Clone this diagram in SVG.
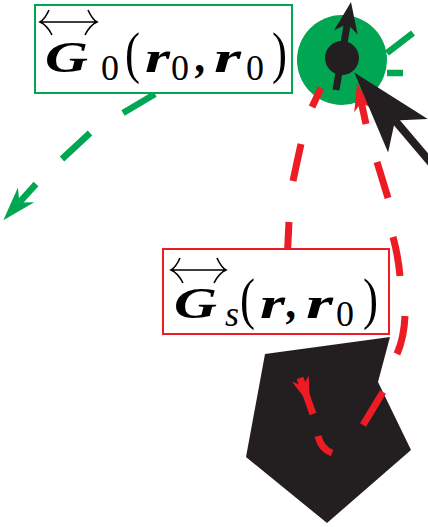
<svg xmlns="http://www.w3.org/2000/svg" width="428" height="527" viewBox="0 0 428 527">
<style>
.dash-g{fill:none;stroke:#00a651;stroke-width:6.5}
.dash-r{fill:none;stroke:#ed1c24;stroke-width:7}
.box{fill:#fff;stroke-width:2}
.m{font-family:"Liberation Serif","Times New Roman",serif;fill:#000}
.bi{font-weight:bold;font-style:italic;font-size:44px}
.sub{font-size:36px}
.it{font-style:italic}
.par{font-size:58px}
.acc{fill:none;stroke:#000;stroke-width:1.6}
</style>
<defs>
<marker id="ah-green" markerUnits="userSpaceOnUse" orient="auto" refX="0" refY="0" markerWidth="60" markerHeight="60" overflow="visible">
<path d="M24,0 L-10,-11 L0,0 L-10,11 Z" fill="#00a651"/>
</marker>
<marker id="ah-red" markerUnits="userSpaceOnUse" orient="auto" refX="0" refY="0" markerWidth="60" markerHeight="60" overflow="visible">
<path d="M20,0 L-8,-9 L0,0 L-8,9 Z" fill="#ed1c24"/>
</marker>
<marker id="ah-black" markerUnits="userSpaceOnUse" orient="auto" refX="0" refY="0" markerWidth="60" markerHeight="60" overflow="visible">
<path d="M22,0 L-9,-12 L0,0 L-9,12 Z" fill="#231f20"/>
</marker>
<marker id="ah-black-big" markerUnits="userSpaceOnUse" orient="auto" refX="0" refY="0" markerWidth="200" markerHeight="200" overflow="visible">
<path d="M63,0 L-20,-26 L0,0 L-20,26 Z" fill="#231f20"/>
</marker>
</defs>

<g id="scatterer">
<polygon points="265,354 390,337 378,382 411,450 327,523 246,457" fill="#231f20"/>
</g>

<g id="source">
<circle cx="342" cy="60" r="45" fill="#00a651"/>
<circle cx="342" cy="58" r="17" fill="#231f20"/>
<path d="M336,90 L347.3,23.7" fill="none" stroke="#231f20" stroke-width="7" marker-end="url(#ah-black)"/>
</g>

<g id="connectors">
<path class="dash-g" d="M387,53 L413,33 M387,73 L403,73"/>
<path class="dash-g" d="M155,94 L123,113 M90,133 L62,159"/>
<path class="dash-g" d="M36,184 L19.4,202.4" marker-end="url(#ah-green)"/>
<path class="dash-r" d="M321,88 L312,107 M301,144 Q297,162 293,181 M289,222 L287,262"/>
<path class="dash-r" d="M300,378 L303,386 L313,414" marker-mid="url(#ah-red)"/>
<path class="dash-r" d="M318,436 Q321,449 332,453 M363,425 L383,392 M397,354 Q404,338 405,316 M400,276 Q398,255 393,237 M388,198 L377,162"/>
<path class="dash-r" d="M366,124 L361.3,102.5" marker-end="url(#ah-red)"/>
<path d="M448,183 L395,120.5" fill="none" stroke="#231f20" stroke-width="8" marker-end="url(#ah-black-big)"/>
</g>

<g id="label-G0">
<rect class="box" x="35" y="5" width="257" height="88" stroke="#00a651"/>
<path class="acc" d="M40,22 H97 M49,10 Q45,19 40,22 Q47,25 52,35 M88,10 Q92,19 97,22 Q90,25 85,35"/>
<text class="m bi" x="45" y="72" textLength="43" lengthAdjust="spacingAndGlyphs">G</text>
<text class="m sub" x="101" y="80">0</text>
<text class="m par" x="125" y="72" textLength="15" lengthAdjust="spacingAndGlyphs">(</text>
<text class="m bi" x="145" y="72" textLength="25" lengthAdjust="spacingAndGlyphs">r</text>
<text class="m sub" x="171" y="80">0</text>
<text class="m bi" x="196" y="72">,</text>
<text class="m bi" x="214" y="72" textLength="27" lengthAdjust="spacingAndGlyphs">r</text>
<text class="m sub" x="246" y="80">0</text>
<text class="m par" x="272" y="72" textLength="15" lengthAdjust="spacingAndGlyphs">)</text>
</g>

<g id="label-Gs">
<rect class="box" x="163" y="249" width="226" height="85" stroke="#ed1c24"/>
<path class="acc" d="M171,270 H226 M180,258 Q176,267 171,270 Q178,273 183,283 M217,258 Q221,267 226,270 Q219,273 214,283"/>
<text class="m bi" x="174" y="318" textLength="43" lengthAdjust="spacingAndGlyphs">G</text>
<text class="m sub it" x="225" y="326">s</text>
<text class="m par" x="240" y="318" textLength="15" lengthAdjust="spacingAndGlyphs">(</text>
<text class="m bi" x="260" y="318" textLength="25" lengthAdjust="spacingAndGlyphs">r</text>
<text class="m bi" x="287" y="318">,</text>
<text class="m bi" x="306" y="318" textLength="27" lengthAdjust="spacingAndGlyphs">r</text>
<text class="m sub" x="336" y="326">0</text>
<text class="m par" x="363" y="318" textLength="15" lengthAdjust="spacingAndGlyphs">)</text>
</g>
</svg>
